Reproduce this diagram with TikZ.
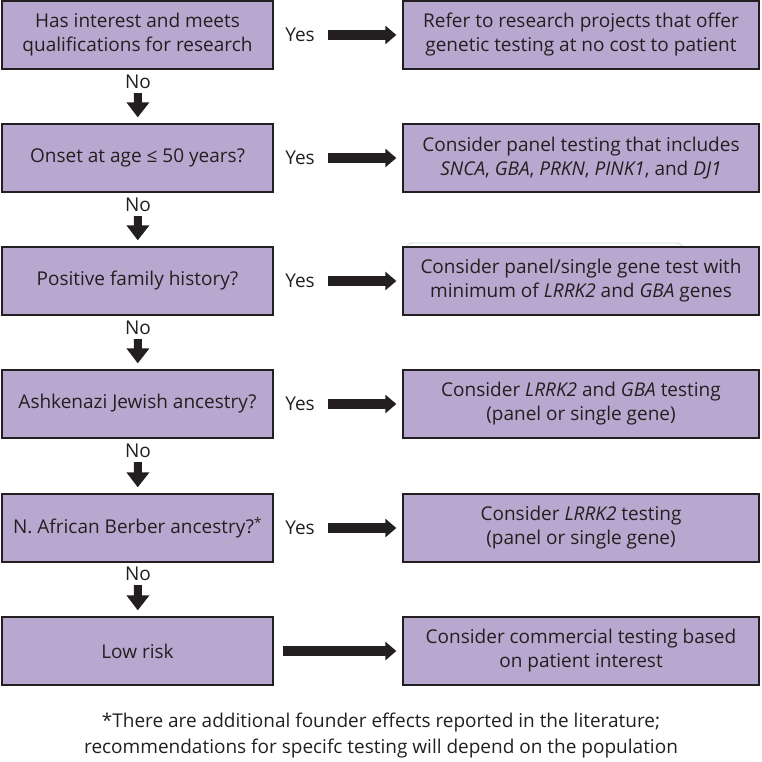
\documentclass[tikz,border=0pt]{standalone}
\usepackage{fontspec}
\setmainfont{Open Sans}
\definecolor{boxpurple}{HTML}{B8A8CF}
\definecolor{inkgrey}{HTML}{231F20}
\definecolor{ghostblue}{HTML}{C9DCE6}
\usetikzlibrary{arrows.meta,positioning}

\begin{document}
\begin{tikzpicture}[x=1pt,y=-1pt,
    qbox/.style={draw=inkgrey, line width=1.3pt, fill=boxpurple, text=inkgrey, minimum width=271pt, minimum height=68pt, align=center, inner sep=0pt, font=\fontsize{19}{24}\selectfont},
    abox/.style={qbox, minimum width=356pt},
    lbl/.style={text=inkgrey, inner sep=1pt, font=\fontsize{19}{20}\selectfont},
    yesarrow/.style={-{Triangle[width=18pt,length=11pt]}, line width=10pt, inkgrey},
    noarrow/.style={-{Triangle[width=22pt,length=15pt]}, line width=8pt, inkgrey}]
  \useasboundingbox (0,0) rectangle (762,762);

  %% faint leftover frame behind third answer
  \draw[ghostblue, line width=0.8pt, rounded corners=6pt] (406,256) -- (406,243) -- (683,243) -- (683,256);

  %% Question boxes
  \node[qbox] (q1) at (137.5,35)  {Has interest and meets\\qualifications for research};
  \node[qbox] (q2) at (137.5,158) {Onset at age ≤ 50 years?};
  \node[qbox] (q3) at (137.5,281) {Positive family history?};
  \node[qbox] (q4) at (137.5,404) {Ashkenazi Jewish ancestry?};
  \node[qbox] (q5) at (137.5,528) {N. African Berber ancestry?\textsuperscript{*}};
  \node[qbox] (q6) at (137.5,651) {Low risk};

  %% Answer boxes
  \node[abox] (a1) at (581,35)  {Refer to research projects that offer\\genetic testing at no cost to patient};
  \node[abox] (a2) at (581,158) {Consider panel testing that includes\\\textit{SNCA}, \textit{GBA}, \textit{PRKN}, \textit{PINK1}, and \textit{DJ1}};
  \node[abox] (a3) at (581,281) {Consider panel/single gene test with\\minimum of \textit{LRRK2} and \textit{GBA} genes};
  \node[abox] (a4) at (581,404) {Consider \textit{LRRK2} and \textit{GBA} testing\\(panel or single gene)};
  \node[abox] (a5) at (581,528) {Consider \textit{LRRK2} testing\\(panel or single gene)};
  \node[abox] (a6) at (581,651) {Consider commercial testing based\\on patient interest};

  %% Yes labels
  \node[lbl] (y1) at (300,35)  {Yes};
  \node[lbl] (y2) at (300,158) {Yes};
  \node[lbl] (y3) at (300,281) {Yes};
  \node[lbl] (y4) at (300,404) {Yes};
  \node[lbl] (y5) at (300,528) {Yes};

  %% No labels
  \node[lbl] (n1) at (138,82)  {No};
  \node[lbl] (n2) at (138,205) {No};
  \node[lbl] (n3) at (138,328) {No};
  \node[lbl] (n4) at (138,451) {No};
  \node[lbl] (n5) at (138,574) {No};

  %% Yes arrows
  \draw[yesarrow, shorten <=12pt, shorten >=6pt] (y1) -- (a1);
  \draw[yesarrow, shorten <=12pt, shorten >=6pt] (y2) -- (a2);
  \draw[yesarrow, shorten <=12pt, shorten >=6pt] (y3) -- (a3);
  \draw[yesarrow, shorten <=12pt, shorten >=6pt] (y4) -- (a4);
  \draw[yesarrow, shorten <=12pt, shorten >=6pt] (y5) -- (a5);
  \draw[yesarrow, shorten <=9pt, shorten >=6pt] (q6) -- (a6);

  %% No arrows
  \draw[noarrow, shorten <=3pt, shorten >=6pt] (n1) -- (q2);
  \draw[noarrow, shorten <=3pt, shorten >=6pt] (n2) -- (q3);
  \draw[noarrow, shorten <=3pt, shorten >=6pt] (n3) -- (q4);
  \draw[noarrow, shorten <=3pt, shorten >=6pt] (n4) -- (q5);
  \draw[noarrow, shorten <=3pt, shorten >=6pt] (n5) -- (q6);

  %% Footnote
  \node[text=inkgrey, align=center, font=\fontsize{19}{26}\selectfont] (note) at (381,736)
    {*There are additional founder effects reported in the literature;\\recommendations for specifc testing will depend on the population};
\end{tikzpicture}
\end{document}
